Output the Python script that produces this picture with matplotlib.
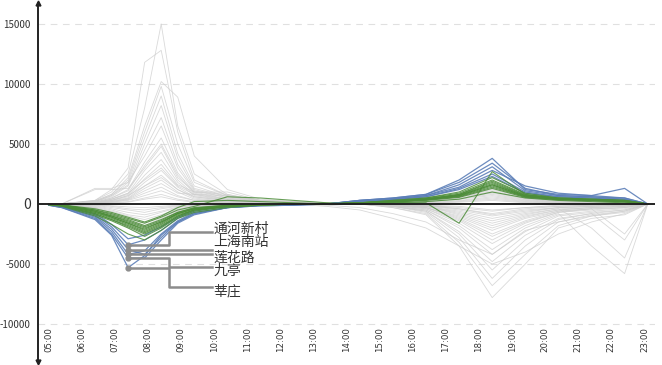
import matplotlib
matplotlib.use("Agg")
import matplotlib.pyplot as plt

plt.rcParams['font.family'] = ['Noto Sans CJK SC', 'DejaVu Sans']

# sample times (hours) of each series point
times = [5.0, 5.4, 6.4, 6.9, 7.4, 7.9, 8.4, 8.9, 9.4, 10.4, 11.4, 12.4, 13.4,
         14.4, 15.4, 16.4, 17.4, 18.4, 19.4, 20.4, 21.4, 22.4, 23.1]
hours = list(range(5, 24))
hour_labels = ['%02d:00' % h for h in hours]
yticks = [-10000, -5000, 0, 5000, 10000, 15000]

# stations with morning inflow (grey)
gray_up = [
    [0, 20, 300, 1000, 2500, 8000, 15000, 6500, 2500, 800, 300, 200, 100, 0, -300, -900, -3500, -7800, -5000, -2000, -1200, -900, 0],
    [0, 20, 300, 1200, 3000, 11800, 12800, 6000, 2000, 700, 300, 200, 100, 0, -300, -800, -3200, -6800, -4200, -1800, -1000, -700, 0],
    [0, 20, 250, 800, 2200, 6500, 10200, 8900, 4000, 1200, 400, 200, 100, 0, -200, -700, -2800, -6200, -3500, -1500, -900, -600, 0],
    [0, 20, 250, 800, 2000, 6000, 9800, 5000, 1800, 700, 300, 150, 50, 0, -200, -600, -2500, -5500, -3000, -1300, -800, -500, 0],
    [0, 15, 200, 700, 1800, 5500, 9000, 4200, 1500, 600, 300, 150, 50, 0, -200, -600, -2300, -4800, -2600, -1200, -800, -3000, 0],
    [0, 15, 200, 700, 1600, 5000, 8200, 3800, 1300, 600, 250, 150, 50, 0, -200, -500, -2000, -4200, -2300, -1000, -700, -500, 0],
    [0, 15, 200, 600, 1500, 4500, 7200, 3300, 1200, 500, 250, 100, 50, 0, -150, -500, -1800, -3800, -2000, -900, -600, -400, 0],
    [0, 10, 1300, 1300, 1800, 4000, 6500, 3000, 1100, 500, 200, 100, 50, 0, -150, -400, -1600, -3300, -1800, -800, -3500, -5800, 0],
    [0, 10, 150, 500, 1200, 3500, 5500, 2600, 1000, 400, 200, 100, 0, 0, -100, -400, -1400, -3000, -1600, -700, -500, -300, 0],
    [0, 10, 150, 500, 1100, 3200, 5000, 2400, 900, 400, 200, 100, 0, 0, -100, -300, -1300, -2700, -1500, -700, -400, -300, 0],
    [0, 10, 1200, 1200, 1300, 3000, 4800, 2200, 1000, 1000, 300, 100, 0, 0, -100, -300, -1200, -2500, -1400, -600, -400, -300, 0],
    [0, 10, 100, 400, 900, 2800, 4300, 2000, 800, 300, 150, 100, 0, 0, -100, -300, -1100, -2200, -1200, -600, -400, -2500, 0],
    [0, 10, 100, 400, 800, 2400, 3700, 1800, 700, 300, 150, 50, 0, 0, -100, -300, -1000, -2000, -1100, -500, -300, -200, 0],
    [0, 10, 100, 300, 700, 2100, 3300, 1600, 1000, 800, 200, 50, 0, 0, -100, -200, -900, -1800, -1000, -500, -300, -200, 0],
    [0, 5, 80, 300, 600, 1800, 2800, 1400, 600, 250, 100, 50, 0, 0, -100, -200, -800, -1600, -900, -400, -300, -200, 0],
    [0, 5, 80, 250, 500, 1500, 2400, 1200, 500, 200, 100, 50, 0, 0, -50, -200, -700, -1400, -800, -400, -2000, -4500, 0],
    [0, 5, 60, 200, 450, 1300, 2000, 1000, 400, 200, 100, 50, 0, 0, -50, -200, -600, -1200, -700, -300, -200, -100, 0],
    [0, 5, 50, 200, 400, 1100, 1700, 900, 800, 700, 100, 50, 0, 0, -50, -150, -500, -1000, -600, -300, -200, -100, 0],
    [0, 5, 50, 150, 350, 900, 1400, 700, 300, 150, 50, 0, 0, 0, -50, -150, -400, -900, -500, -300, -200, -100, 0],
    [0, 5, 40, 150, 300, 700, 1100, 600, 300, 150, 50, 0, 0, 0, -50, -100, -400, -800, -400, -200, -100, -100, 0],
    [0, 0, 30, 100, 200, 500, 800, 400, 200, 100, 50, 0, 0, 0, 0, -100, -300, -600, -300, -200, -100, 0, 0],
    [0, 0, 20, 80, 150, 400, 600, 300, 150, 100, 0, 0, 0, 0, 0, -100, -200, -500, -300, -100, -100, 0, 0],
    [0, 5, 100, 400, 900, 2000, 3000, 1500, 800, 400, 200, 0, -200, -500, -1200, -2000, -3500, -5000, -4000, -2500, -1500, -800, 0],
    [0, 5, 80, 300, 700, 1500, 2200, 1200, 600, 300, 100, 0, -100, -300, -800, -1500, -3000, -4200, -2200, -1500, -1000, -600, 0],
]

# stations with morning outflow (grey)
gray_down = [
    [0, -50, -500, -1000, -1800, -2400, -1600, -700, -300, -100, 0, 0, 0, 0, 100, 300, 800, 1300, 600, 300, 200, 100, 0],
    [0, -40, -400, -900, -1600, -2100, -1400, -600, -250, -100, 0, 0, 0, 0, 100, 250, 700, 1100, 500, 300, 200, 100, 0],
    [0, -30, -350, -800, -1400, -1800, -1200, -500, -200, -100, 0, 0, 0, 0, 100, 200, 600, 1000, 450, 250, 150, 100, 0],
    [0, -30, -300, -700, -1200, -1600, -1000, -450, -200, -50, 0, 0, 0, 0, 50, 200, 500, 900, 400, 200, 150, 100, 0],
    [0, -20, -250, -600, -1000, -1300, -900, -400, -150, -50, 0, 0, 0, 0, 50, 150, 450, 800, 350, 200, 100, 50, 0],
    [0, -20, -200, -500, -900, -1100, -700, -300, -100, 0, 0, 0, 0, 0, 50, 150, 400, 700, 300, 150, 100, 50, 0],
    [0, -15, -150, -400, -700, -900, -600, -250, -100, 0, 0, 0, 0, 0, 50, 100, 300, 600, 250, 150, 100, 50, 0],
    [0, -10, -100, -300, -500, -700, -400, -200, -50, 0, 0, 0, 0, 0, 0, 100, 250, 500, 200, 100, 50, 0, 0],
    [0, -10, -80, -200, -400, -500, -300, -150, -50, 0, 0, 0, 0, 0, 0, 50, 200, 400, 150, 100, 50, 0, 0],
    [0, -5, -50, -150, -250, -300, -200, -100, 0, 0, 0, 0, 0, 0, 0, 50, 150, 300, 100, 50, 0, 0, 0],
    [0, -40, -450, -1100, -2000, -2600, -1700, -800, -400, -150, 0, 0, 0, 0, 100, 300, 700, 1200, 550, 300, 200, 100, 0],
    [0, -30, -300, -800, -1500, -1900, -1300, -600, -250, -100, 0, 0, 0, 0, 100, 200, 600, 1000, 500, 250, 150, 100, 0],
]

# highlighted stations (blue)
blue_lines = [
    [-100, -300, -1300, -2600, -5300, -4300, -2600, -1500, -800, -300, -150, -100, 0, 300, 500, 800, 2000, 3800, 1200, 800, 700, 1300, 0],
    [-100, -300, -1200, -2500, -4500, -4500, -3000, -1600, -900, -300, -150, -100, 0, 300, 500, 800, 1800, 3400, 1300, 700, 600, 500, 0],
    [-80, -250, -1100, -2300, -4200, -3900, -2500, -1400, -700, -300, -100, -50, 0, 300, 450, 700, 1600, 3100, 1100, 700, 600, 400, 0],
    [-80, -250, -1000, -2100, -3800, -4200, -2800, -1500, -800, -300, -100, -50, 0, 250, 400, 700, 1400, 2800, 1500, 900, 700, 500, 0],
    [-60, -200, -900, -1900, -3400, -3000, -2200, -1200, -600, -200, -100, -50, 0, 250, 400, 600, 1300, 2500, 1000, 600, 500, 400, 0],
    [-60, -200, -800, -1700, -2900, -2600, -1900, -1100, -500, -200, -100, 0, 0, 200, 350, 600, 1200, 2300, 900, 600, 500, 300, 0],
]

# highlighted stations (green)
green_lines = [
    [-50, -150, -900, -1400, -2000, -2700, -2000, -1100, -600, -200, -100, 0, 0, 100, 300, 500, 900, 2000, 800, 500, 400, 300, 0],
    [-50, -150, -800, -1300, -1900, -2500, -1900, -1000, -500, -200, -100, 0, 0, 100, 250, 450, 800, 1800, 700, 500, 400, 300, 0],
    [-40, -120, -700, -1200, -1700, -2300, -1700, -900, -500, -200, -50, 0, 0, 100, 250, 400, 750, 1700, 700, 450, 350, 250, 0],
    [-40, -120, -700, -1100, -1600, -2200, -1600, -800, -400, -150, -50, 0, 0, 100, 200, 400, 700, 1600, 650, 400, 350, 250, 0],
    [-30, -100, -600, -1000, -1500, -2000, -1500, -800, -400, -150, -50, 0, 0, 80, 200, 350, 650, 1500, 600, 400, 300, 200, 0],
    [-30, -100, -600, -1000, -1400, -1900, -1400, -700, -350, -100, 0, 0, 0, 80, 200, 350, 600, 1400, 600, 400, 300, 200, 0],
    [-30, -100, -500, -900, -1300, -1800, -1300, -700, -300, -100, 0, 0, 0, 80, 150, 300, 550, 1300, 550, 350, 300, 200, 0],
    [-60, -200, -1000, -1700, -2500, -3000, -2200, -1200, -700, -300, -100, 0, 0, 100, 300, 500, 1000, 2200, 900, 500, 400, 300, 0],
    [-40, -150, -800, -1300, -1800, -2400, -1800, -1000, -500, -200, -100, 0, 0, 100, 200, 400, 800, 1900, 750, 450, 350, 250, 0],
    [-20, -80, -500, -800, -1200, -1600, -1100, -500, -200, 600, 500, 300, 100, 0, 100, 200, 400, 1000, 500, 300, 200, 100, 0],
    [-20, -80, -400, -700, -1100, -1500, -1000, -300, 200, 300, 200, 100, 0, 0, 100, 100, -1600, 2700, 800, 400, 300, 200, 0],
    [-30, -100, -600, -1100, -1600, -2100, -1500, -800, -400, -150, -50, 0, 0, 80, 200, 350, 700, 1600, 650, 400, 300, 200, 0],
]

# labelled stations: name, marker value at 07:24, label y, connector y
names = ['通河新村', '上海南站', '莲花路', '九亭', '莘庄']
marker_vals = [-3400, -3800, -4200, -4500, -5300]
label_vals = [-2100, -3200, -4500, -5600, -7250]
line_vals = [-2350, -3800, -4200, -5250, -6900]
marker_t = 7.4
elbow_t = 8.63
end_t = 9.93

fig = plt.figure(figsize=(6.62, 3.65), dpi=100)
ax = fig.add_axes([0.057, 0.008, 0.933, 0.984])

for y in yticks:
    if y != 0:
        ax.axhline(y, color='#e0e0e0', lw=0.8, ls=(0, (6, 5)), zorder=0)

for s in gray_up + gray_down:
    ax.plot(times, s, color='#cdcdcd', lw=0.6, alpha=0.75, zorder=1)
for s in green_lines:
    ax.plot(times, s, color='#4b8c38', lw=0.8, alpha=0.85, zorder=3)
for s in blue_lines:
    ax.plot(times, s, color='#5c7fb8', lw=0.9, alpha=0.9, zorder=2)

ax.axhline(0, color='#222222', lw=1.4, zorder=4)

# station labels with connectors
for name, mv, lv, yv in zip(names, marker_vals, label_vals, line_vals):
    if abs(yv - mv) < 1:
        ax.plot([marker_t, end_t], [mv, mv], color='#8c8c8c', lw=1.8, zorder=5)
    else:
        ax.plot([marker_t, elbow_t, elbow_t, end_t], [mv, mv, yv, yv],
                color='#8c8c8c', lw=1.8, zorder=5)
    ax.plot(marker_t, mv, 'o', color='#8c8c8c', ms=3.5, zorder=6)
    ax.text(end_t + 0.05, lv, name, fontsize=10, color='#333333',
            va='center', ha='left', zorder=6)

# x tick labels inside the plot area
for h, lab in zip(hours, hour_labels):
    ax.text(h, -10250, lab, rotation=90, ha='center', va='top',
            fontsize=6.2, color='#333333', family='DejaVu Sans')

ax.set_xlim(4.67, 23.33)
ax.set_ylim(-13170, 16750)
ax.set_xticks([])
ax.set_yticks(yticks)
ax.set_yticklabels([str(v) for v in yticks])
ax.tick_params(axis='y', length=0, pad=5, labelsize=7, labelcolor='#333333')
for lab in ax.get_yticklabels():
    if lab.get_text() == '0':
        lab.set_fontsize(10)

for side in ['top', 'right', 'bottom']:
    ax.spines[side].set_visible(False)
ax.spines['left'].set_linewidth(1.4)
ax.spines['left'].set_color('#222222')
ax.plot([0], [1], marker='^', color='#222222', ms=3.5,
        transform=ax.transAxes, clip_on=False)
ax.plot([0], [0], marker='v', color='#222222', ms=3.5,
        transform=ax.transAxes, clip_on=False)

fig.savefig('out.png', dpi=100)
